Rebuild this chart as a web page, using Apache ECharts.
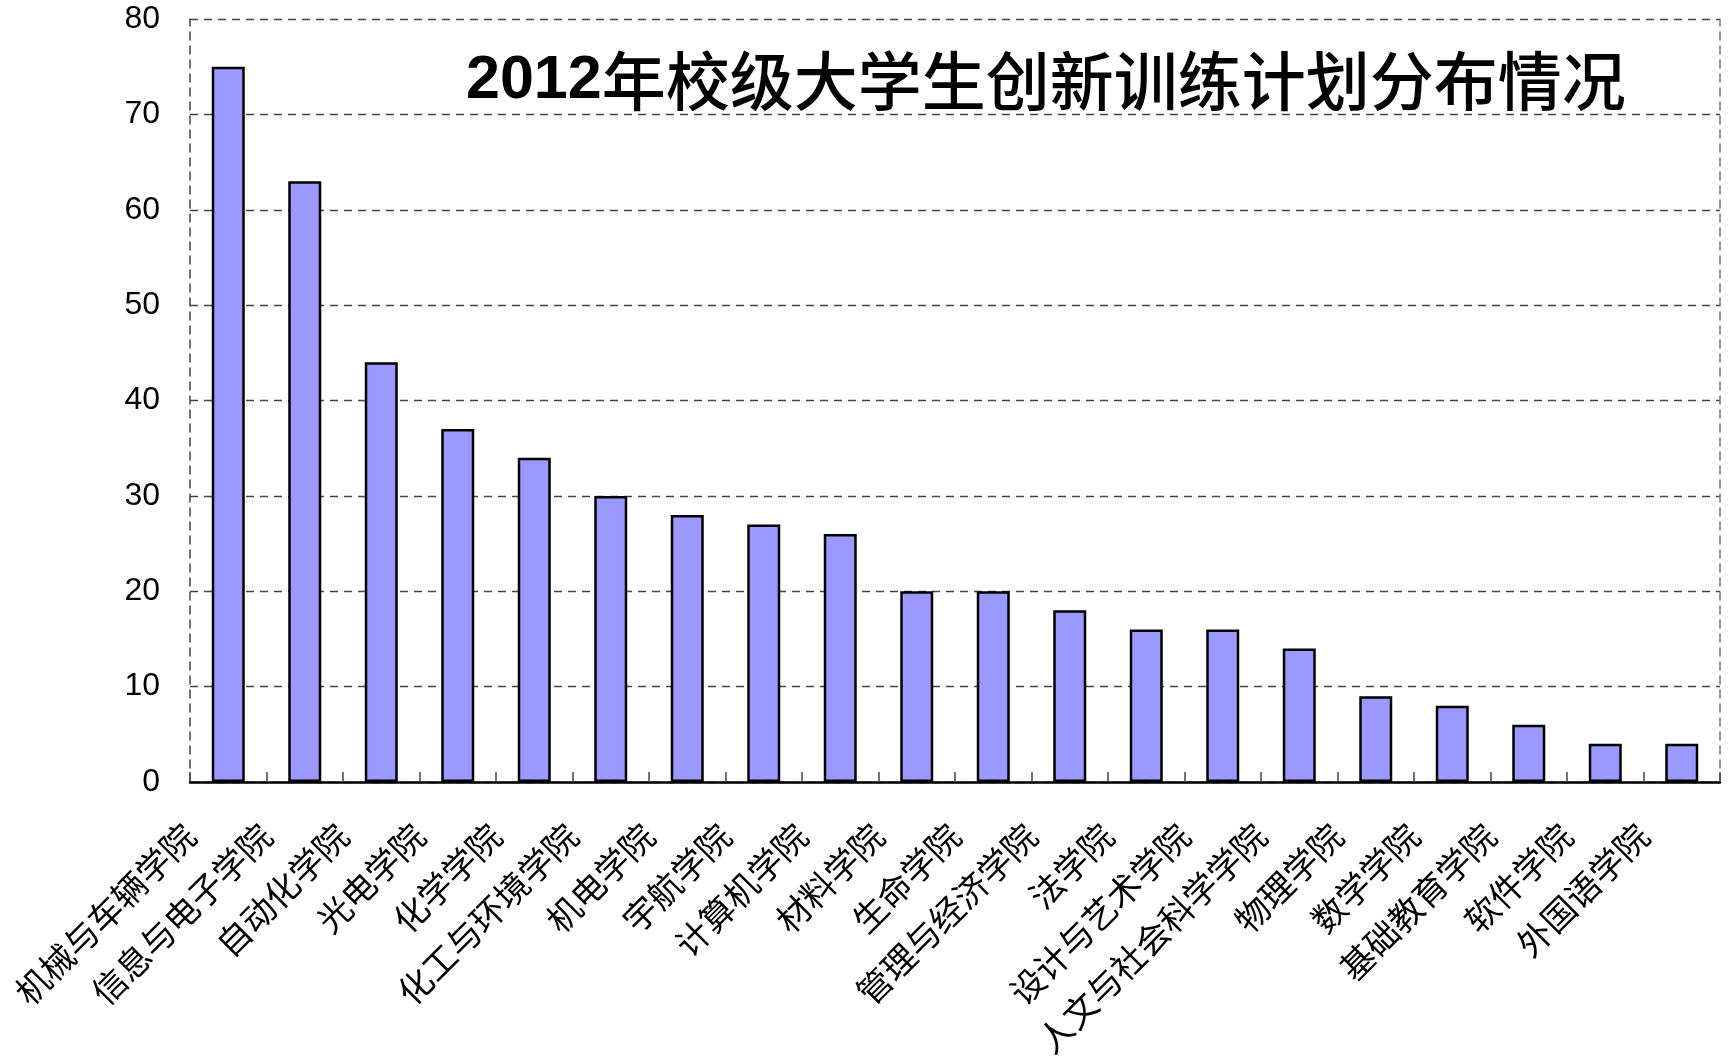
<!DOCTYPE html>
<html>
<head>
<meta charset="utf-8">
<script src="https://cdn.jsdelivr.net/npm/echarts@6/dist/echarts.min.js"></script>
<style>
html,body{margin:0;padding:0;background:#fff;}
#chart{width:1732px;height:1056px;}
</style>
</head>
<body>
<div id="chart"></div>
<script>
const titleYear = '2012';
const titleRest = '年校级大学生创新训练计划分布情况';
const categories = ['机械与车辆学院','信息与电子学院','自动化学院','光电学院','化学学院','化工与环境学院','机电学院','宇航学院','计算机学院','材料学院','生命学院','管理与经济学院','法学院','设计与艺术学院','人文与社会科学学院','物理学院','数学学院','基础教育学院','软件学院','外国语学院'];
const values = [75,63,44,37,34,30,28,27,26,20,20,18,16,16,14,9,8,6,4,4];
const yMin = 0, yMax = 80, yInterval = 10;

const shadow = {textShadowColor: 'rgba(0,0,0,0.35)', textShadowOffsetX: 3, textShadowOffsetY: 3, textShadowBlur: 0};
const chart = echarts.init(document.getElementById('chart'));
chart.setOption({
  animation: false,
  backgroundColor: '#fff',
  title: {
    text: '{a|' + titleYear + '}{b|' + titleRest + '}',
    left: 466,
    top: 45,
    padding: 0,
    textStyle: {
      lineHeight: 72,
      rich: {
        a: Object.assign({fontFamily: '"Liberation Sans", Arial, sans-serif', fontSize: 61, fontWeight: 'bold', color: '#000', lineHeight: 72}, shadow),
        b: Object.assign({fontFamily: '"Noto Sans CJK SC", sans-serif', fontSize: 64, fontWeight: 500, color: '#000', lineHeight: 72}, shadow)
      }
    }
  },
  grid: {left: 190, right: 12, top: 19, bottom: 274, containLabel: false, outerBoundsMode: 'none'},
  xAxis: {
    type: 'category',
    data: categories,
    boundaryGap: true,
    axisLine: {show: true, lineStyle: {color: '#000', width: 2.5}},
    axisTick: {show: true, inside: true, length: 10, lineStyle: {color: '#444', width: 1.5}},
    axisLabel: {
      interval: 0,
      rotate: 45,
      margin: 9,
      padding: [0, 55, 0, 0],
      fontSize: 34,
      color: '#000',
      fontFamily: '"Noto Sans CJK SC", sans-serif'
    },
    splitLine: {show: false}
  },
  yAxis: [{
    type: 'value',
    min: yMin, max: yMax, interval: yInterval,
    axisLine: {show: true, lineStyle: {color: '#444', width: 1.5, type: [8, 6]}},
    axisTick: {show: false},
    axisLabel: {fontSize: 32, margin: 30, color: '#000', fontFamily: '"Liberation Sans", Arial, sans-serif'},
    splitLine: {show: true, lineStyle: {color: '#444', width: 1.3, type: [8, 6]}}
  }, {
    type: 'value',
    position: 'right',
    min: yMin, max: yMax, interval: yInterval,
    axisLine: {show: true, lineStyle: {color: '#777', width: 1.5, type: [8, 6]}},
    axisTick: {show: false},
    axisLabel: {show: false},
    splitLine: {show: false}
  }],
  series: [{
    type: 'bar',
    data: values,
    barWidth: 33,
    itemStyle: {color: '#9999FF', borderColor: '#000', borderWidth: 2.5}
  }]
});
</script>
</body>
</html>
